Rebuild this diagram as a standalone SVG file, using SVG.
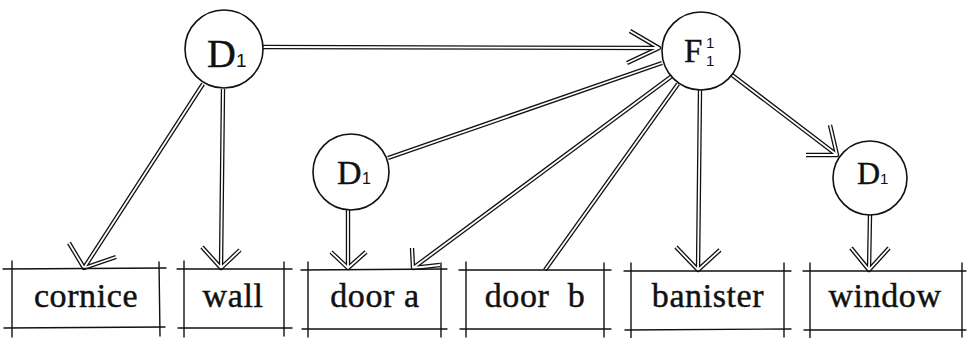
<svg xmlns="http://www.w3.org/2000/svg" xmlns:xlink="http://www.w3.org/1999/xlink" width="968" height="338" viewBox="0 0 968 338">
<style>
  .bg { fill: #ffffff; }
  .node circle { fill: none; stroke: #111; stroke-width: 1.6; }
  .box line { stroke: #111; stroke-width: 1.4; stroke-linecap: round; }
  .lbl { font-family: "Liberation Serif", "Times New Roman", serif; font-size: 34px; letter-spacing: 0.6px; fill: #111; stroke: #111; stroke-width: 0.45; text-anchor: middle; }
  .cl { font-family: "Liberation Serif", "Times New Roman", serif; fill: #111; stroke: #111; stroke-width: 0.4; }
  .sub { font-family: "Liberation Sans", Arial, sans-serif; fill: #111; }
  .outer { fill: none; stroke: #111; stroke-width: 4.4; stroke-linejoin: round; stroke-linecap: butt; }
  .inner { fill: none; stroke: #fff; stroke-width: 1.8; stroke-linejoin: round; stroke-linecap: butt; }
</style>
<defs>
  <path id="c1" d="M263 47 L659 48 M630 31 L659 48 L627 63"/>
  <path id="c2" d="M203 84 L84 268 M69 243 L84 268 L116 257"/>
  <path id="c3" d="M223 89 L221 268 M202 247 L221 268 L240 250"/>
  <path id="c4" d="M672 76 L413 268 M412 248 L413 268 L440 265"/>
  <path id="c5" d="M348 210 L348 268 M331 252 L348 268 L366 252"/>
  <path id="c6" d="M388 158 L662 63"/>
  <path id="c7" d="M678 84 L545 270"/>
  <path id="c8" d="M700 90 L698 270 M676 247 L698 270 L720 250"/>
  <path id="c9" d="M732 75 L837 155 M830 125 L837 155 L806 155"/>
  <path id="c10" d="M870 215 L869 270 M851 248 L869 270 L889 248"/>
</defs>
<rect class="bg" x="0" y="0" width="968" height="338"/>
<g id="connectors">
  <use xlink:href="#c1" class="outer"/>
  <use xlink:href="#c2" class="outer"/>
  <use xlink:href="#c3" class="outer"/>
  <use xlink:href="#c4" class="outer"/>
  <use xlink:href="#c5" class="outer"/>
  <use xlink:href="#c6" class="outer"/>
  <use xlink:href="#c7" class="outer"/>
  <use xlink:href="#c8" class="outer"/>
  <use xlink:href="#c9" class="outer"/>
  <use xlink:href="#c10" class="outer"/>
  <use xlink:href="#c1" class="inner"/>
  <use xlink:href="#c2" class="inner"/>
  <use xlink:href="#c3" class="inner"/>
  <use xlink:href="#c4" class="inner"/>
  <use xlink:href="#c5" class="inner"/>
  <use xlink:href="#c6" class="inner"/>
  <use xlink:href="#c7" class="inner"/>
  <use xlink:href="#c8" class="inner"/>
  <use xlink:href="#c9" class="inner"/>
  <use xlink:href="#c10" class="inner"/>
</g>
<g id="node-D1-top" class="node">
  <circle cx="224" cy="49" r="39"/>
  <text class="cl" x="207" y="67" font-size="40">D</text>
  <text class="sub" x="236" y="67" font-size="19">1</text>
</g>
<g id="node-F1" class="node">
  <circle cx="701" cy="51" r="39"/>
  <text class="cl" x="684" y="62" font-size="33">F</text>
  <text class="sub" x="706" y="48" font-size="15">1</text>
  <text class="sub" x="706" y="66" font-size="15">1</text>
</g>
<g id="node-D1-mid" class="node">
  <circle cx="351" cy="172" r="38"/>
  <text class="cl" x="337" y="184" font-size="34">D</text>
  <text class="sub" x="362" y="184" font-size="16">1</text>
</g>
<g id="node-D1-right" class="node">
  <circle cx="870" cy="178" r="37"/>
  <text class="cl" x="857" y="184" font-size="32">D</text>
  <text class="sub" x="880" y="184" font-size="15">1</text>
</g>
<g id="box-cornice" class="box">
  <line x1="3" y1="269" x2="166" y2="268"/>
  <line x1="4" y1="328" x2="165" y2="327"/>
  <line x1="12" y1="261" x2="12" y2="337"/>
  <line x1="159" y1="262" x2="160" y2="336"/>
  <text class="lbl" x="86" y="307">cornice</text>
</g>
<g id="box-wall" class="box">
  <line x1="177" y1="269" x2="292" y2="269"/>
  <line x1="178" y1="328" x2="292" y2="328"/>
  <line x1="184" y1="261" x2="184" y2="337"/>
  <line x1="284" y1="262" x2="284" y2="336"/>
  <text class="lbl" x="233" y="307">wall</text>
</g>
<g id="box-door-a" class="box">
  <line x1="301" y1="270" x2="447" y2="269"/>
  <line x1="302" y1="329" x2="447" y2="329"/>
  <line x1="308" y1="262" x2="308" y2="337"/>
  <line x1="441" y1="263" x2="441" y2="337"/>
  <text class="lbl" x="375" y="307">door a</text>
</g>
<g id="box-door-b" class="box">
  <line x1="459" y1="270" x2="611" y2="270"/>
  <line x1="460" y1="329" x2="611" y2="329"/>
  <line x1="466" y1="262" x2="466" y2="337"/>
  <line x1="604" y1="263" x2="604" y2="337"/>
  <text class="lbl" x="535" y="307" xml:space="preserve">door  b</text>
</g>
<g id="box-banister" class="box">
  <line x1="624" y1="271" x2="791" y2="271"/>
  <line x1="625" y1="330" x2="791" y2="329"/>
  <line x1="631" y1="263" x2="631" y2="338"/>
  <line x1="784" y1="263" x2="784" y2="337"/>
  <text class="lbl" x="708" y="307">banister</text>
</g>
<g id="box-window" class="box">
  <line x1="803" y1="271" x2="966" y2="271"/>
  <line x1="804" y1="330" x2="966" y2="330"/>
  <line x1="810" y1="263" x2="810" y2="338"/>
  <line x1="962" y1="263" x2="962" y2="337"/>
  <text class="lbl" x="885" y="307">window</text>
</g>
</svg>
